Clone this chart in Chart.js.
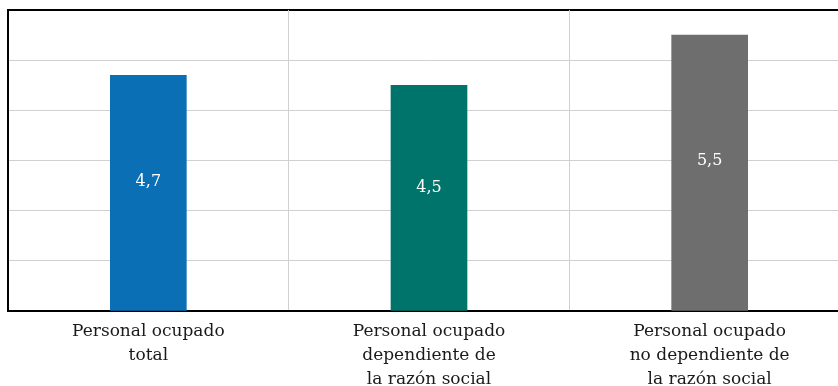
<!DOCTYPE html>
<html>
<head>
<meta charset="utf-8">
<script src="https://cdn.jsdelivr.net/npm/chart.js@4"></script>
<style>
  html, body { margin: 0; padding: 0; background: #fff; overflow: hidden; }
  #caja { position: relative; width: 850px; height: 403px; }
</style>
</head>
<body>
<div id="caja"><canvas id="grafico_personal"></canvas></div>
<script>
var categorias = [
    ['Personal ocupado', 'total'],
    ['Personal ocupado', 'dependiente de', 'la razón social'],
    ['Personal ocupado', 'no dependiente de', 'la razón social']
];
var valores = [4.7, 4.5, 5.5];
var colores = ['#0b6fb6', '#00736a', '#6e6e6e'];

// etiqueta blanca con el valor dentro de cada barra
const etiquetasValor = {
    id: 'etiquetasValor',
    afterDatasetsDraw(chart) {
        const c = chart.ctx;
        const meta = chart.getDatasetMeta(0);
        c.save();
        c.fillStyle = '#ffffff';
        c.font = '16px "DejaVu Serif"';
        c.textAlign = 'center';
        c.textBaseline = 'middle';
        meta.data.forEach(function (barra, i) {
            const y = barra.base - (barra.base - barra.y) * 0.545;
            c.fillText(valores[i].toFixed(1).replace('.', ','), barra.x, y);
        });
        c.restore();
    }
};

const grafico = document.getElementById('grafico_personal').getContext('2d');
new Chart(grafico, {
    type: 'bar',
    data: {
        labels: categorias,
        datasets: [{
            data: valores,
            backgroundColor: colores,
            borderWidth: 0,
            barThickness: 76
        }]
    },
    options: {
        responsive: true,
        maintainAspectRatio: false,
        animation: false,
        layout: { padding: { left: 8, top: 10, right: 0, bottom: 2 } },
        plugins: {
            legend: { display: false },
            tooltip: { enabled: false }
        },
        scales: {
            y: {
                min: 0,
                max: 6,
                ticks: { display: false, stepSize: 1 },
                grid: {
                    drawTicks: false,
                    color: function (ctx) {
                        return ctx.tick && ctx.tick.value === 6 ? '#000000' : '#d0d0d0';
                    },
                    lineWidth: function (ctx) {
                        return ctx.tick && ctx.tick.value === 6 ? 2 : 1;
                    }
                },
                border: { display: true, color: '#000000', width: 2 }
            },
            x: {
                grid: { drawTicks: false, color: '#d0d0d0', offset: true },
                border: { display: true, color: '#000000', width: 2 },
                ticks: {
                    color: '#1a1a1a',
                    padding: 9,
                    maxRotation: 0,
                    autoSkip: false,
                    font: { family: '"DejaVu Serif"', size: 17, lineHeight: '24px' }
                }
            }
        }
    },
    plugins: [etiquetasValor]
});
</script>
</body>
</html>
